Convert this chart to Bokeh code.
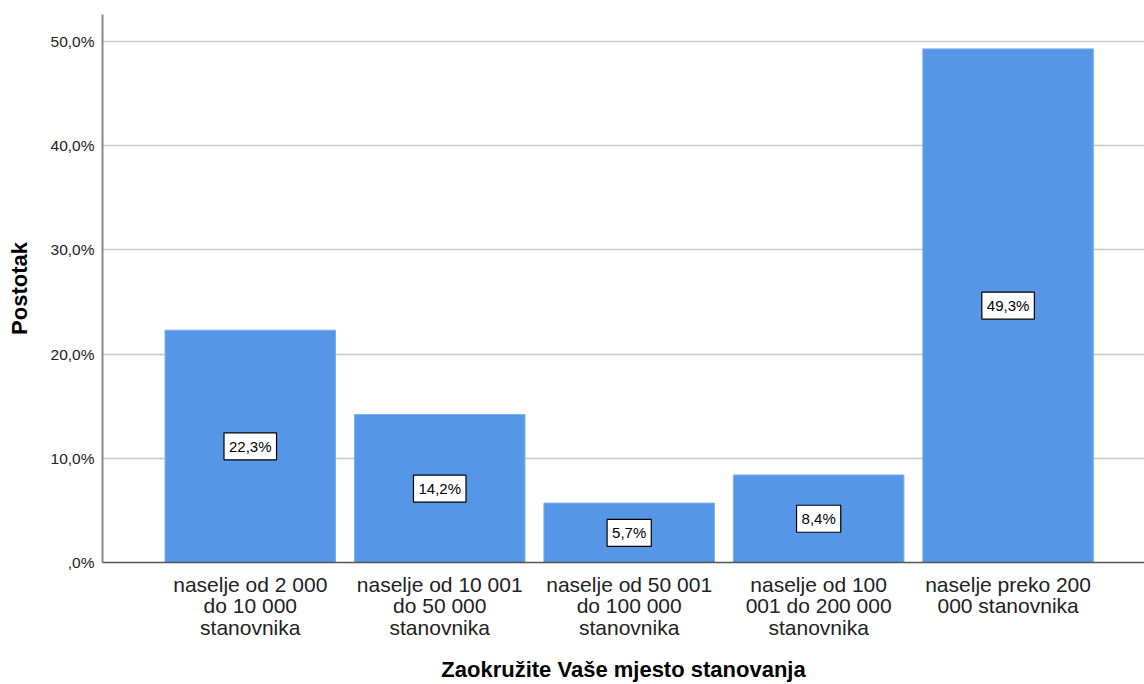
from bokeh.plotting import figure
from bokeh.models import ColumnDataSource, FixedTicker, Range1d
from bokeh.core.properties import value
from bokeh.embed import file_html
from bokeh.resources import INLINE

categories = [
    "naselje od 2 000\ndo 10 000\nstanovnika",
    "naselje od 10 001\ndo 50 000\nstanovnika",
    "naselje od 50 001\ndo 100 000\nstanovnika",
    "naselje od 100\n001 do 200 000\nstanovnika",
    "naselje preko 200\n000 stanovnika",
]
values = [22.3, 14.2, 5.7, 8.4, 49.3]
y_ticks = [0, 10, 20, 30, 40, 50]
y_tick_labels = [",0%", "10,0%", "20,0%", "30,0%", "40,0%", "50,0%"]

xs = list(range(len(categories)))
src = ColumnDataSource(dict(
    x=xs,
    top=values,
    mid=[v / 2 for v in values],
    lab=[("%.1f" % v).replace(".", ",") + "%" for v in values],
))

p = figure(width=1144, height=684, output_backend="svg", toolbar_location=None,
           x_range=Range1d(-0.78, 4.72), y_range=Range1d(0, 52.6),
           min_border_left=102, min_border_right=0, min_border_top=14, min_border_bottom=122)
p.outline_line_color = None
p.background_fill_color = "white"

p.vbar(x="x", top="top", width=0.9, source=src, fill_color="#5596e6",
       line_color="#7aaeee", line_width=1)

p.text(x="x", y="mid", text="lab", source=src, text_align="center",
       text_baseline="middle", text_font=value("Liberation Sans"), text_font_size="15px",
       text_color="black", background_fill_color="white",
       border_line_color="black", border_line_width=1.2, padding=5)

p.xgrid.grid_line_color = None
p.ygrid.grid_line_color = "#c8c8c8"
p.ygrid.grid_line_width = 1.5

p.yaxis.ticker = FixedTicker(ticks=y_ticks)
p.yaxis.major_label_overrides = {t: l for t, l in zip(y_ticks, y_tick_labels)}
p.yaxis.major_tick_line_color = None
p.yaxis.minor_tick_line_color = None
p.yaxis.axis_line_color = "#888888"
p.yaxis.axis_line_width = 2
p.yaxis.major_label_text_font = "Liberation Sans"
p.yaxis.major_label_text_font_size = "15.5px"
p.yaxis.major_label_text_color = "#222222"
p.yaxis.major_label_standoff = 2
p.yaxis.axis_label = "Postotak"
p.yaxis.axis_label_text_font = "Liberation Sans"
p.yaxis.axis_label_text_font_style = "bold"
p.yaxis.axis_label_text_font_size = "22px"
p.yaxis.axis_label_text_color = "black"
p.yaxis.axis_label_standoff = 16

p.xaxis.ticker = FixedTicker(ticks=xs)
p.xaxis.major_label_overrides = {x: c for x, c in zip(xs, categories)}
p.xaxis.major_tick_line_color = None
p.xaxis.minor_tick_line_color = None
p.xaxis.axis_line_color = "#555555"
p.xaxis.axis_line_width = 1.5
p.xaxis.major_label_text_font = "Liberation Sans"
p.xaxis.major_label_text_font_size = "21px"
p.xaxis.major_label_text_line_height = 0.94
p.xaxis.major_label_text_color = "#222222"
p.xaxis.major_label_standoff = 4
p.xaxis.axis_label = "Zaokružite Vaše mjesto stanovanja"
p.xaxis.axis_label_text_font = "Liberation Sans"
p.xaxis.axis_label_text_font_style = "bold"
p.xaxis.axis_label_text_font_size = "22px"
p.xaxis.axis_label_text_color = "black"
p.xaxis.axis_label_standoff = 15

open("out.html", "w").write(file_html(p, INLINE))
